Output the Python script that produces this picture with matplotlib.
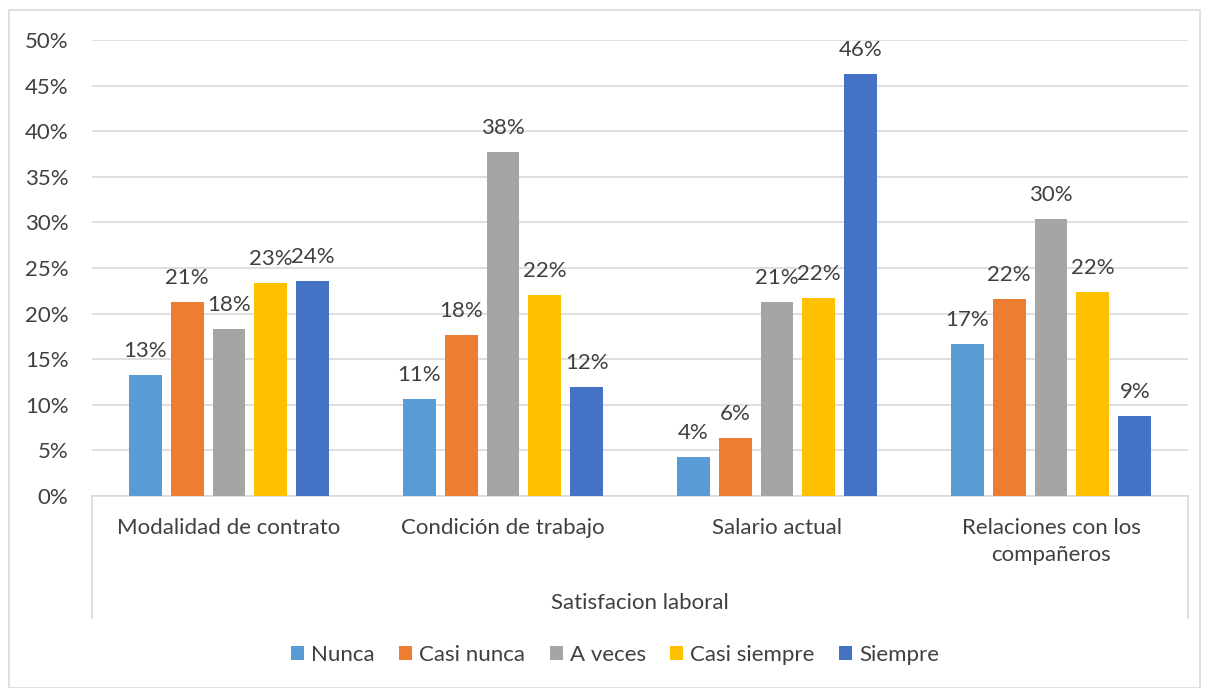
import numpy as np
import matplotlib.pyplot as plt
from matplotlib.patches import Rectangle
from matplotlib.lines import Line2D

categories = ['Modalidad de contrato', 'Condición de trabajo', 'Salario actual',
              'Relaciones con los\ncompañeros']
series = ['Nunca', 'Casi nunca', 'A veces', 'Casi siempre', 'Siempre']
nunca = [13.3, 10.6, 4.3, 16.7]
casi_nunca = [21.3, 17.7, 6.4, 21.6]
a_veces = [18.3, 37.7, 21.3, 30.4]
casi_siempre = [23.4, 22.0, 21.7, 22.4]
siempre = [23.6, 12.0, 46.3, 8.8]
values = [nunca, casi_nunca, a_veces, casi_siempre, siempre]
colors = ['#5b9bd5', '#ed7d31', '#a5a5a5', '#ffc000', '#4472c4']

plt.rcParams['font.family'] = ['Lato', 'DejaVu Sans']
txt = '#404040'
fs = 16

fig = plt.figure(figsize=(12.06, 6.88), dpi=100)
W, H = 1206, 688
ax = fig.add_axes([92 / W, (H - 496) / H, (1188 - 92) / W, (496 - 40) / H])

x = np.arange(len(categories))
step = 0.153
width = 0.12
for i, (name, vals) in enumerate(zip(series, values)):
    pos = x + (i - 2) * step
    bars = ax.bar(pos, vals, width=width, color=colors[i], label=name, zorder=3)
    for b, v in zip(bars, vals):
        ax.annotate(f'{v:.0f}%', (b.get_x() + b.get_width() / 2, v),
                    xytext=(0, 10), textcoords='offset points', ha='center',
                    va='bottom', fontsize=fs, color=txt)

ax.set_xlim(-0.5, 3.5)
ax.set_ylim(0, 50)
ax.set_yticks(np.arange(0, 51, 5))
ax.set_yticklabels([f'{t}%' for t in range(0, 51, 5)], fontsize=fs, color=txt)
ax.yaxis.grid(True, color='#d9d9d9', linewidth=1.2, zorder=0)
ax.set_xticks(x)
ax.set_xticklabels(categories, fontsize=fs, color=txt, linespacing=1.4)
ax.tick_params(axis='x', length=0, pad=16)
ax.tick_params(axis='y', length=0, pad=17)
for s in ['top', 'right', 'left']:
    ax.spines[s].set_visible(False)
ax.spines['bottom'].set_color('#d9d9d9')
ax.spines['bottom'].set_linewidth(1.2)

# multi-level category box
drop = -(618 - 496) / (496 - 40)
for xx in [0, 1]:
    ax.add_line(Line2D([xx, xx], [0, drop], transform=ax.transAxes,
                       color='#d9d9d9', linewidth=1.2, clip_on=False))
fig.text((92 + 1188) / 2 / W, 1 - 603 / H, 'Satisfacion laboral', ha='center',
         va='center', fontsize=fs, color=txt)

fig.legend(loc='center', bbox_to_anchor=(615 / W, 1 - 655 / H), ncol=5,
           frameon=False, fontsize=fs, handlelength=0.6, handleheight=0.6,
           handletextpad=0.3, columnspacing=1.1, labelcolor=txt)

fig.add_artist(Rectangle((9 / W, 0), (1200 - 9) / W, 1 - 10 / H,
                         transform=fig.transFigure, fill=False,
                         edgecolor='#d9d9d9', linewidth=1.2))

fig.savefig('out.png', dpi=100)
